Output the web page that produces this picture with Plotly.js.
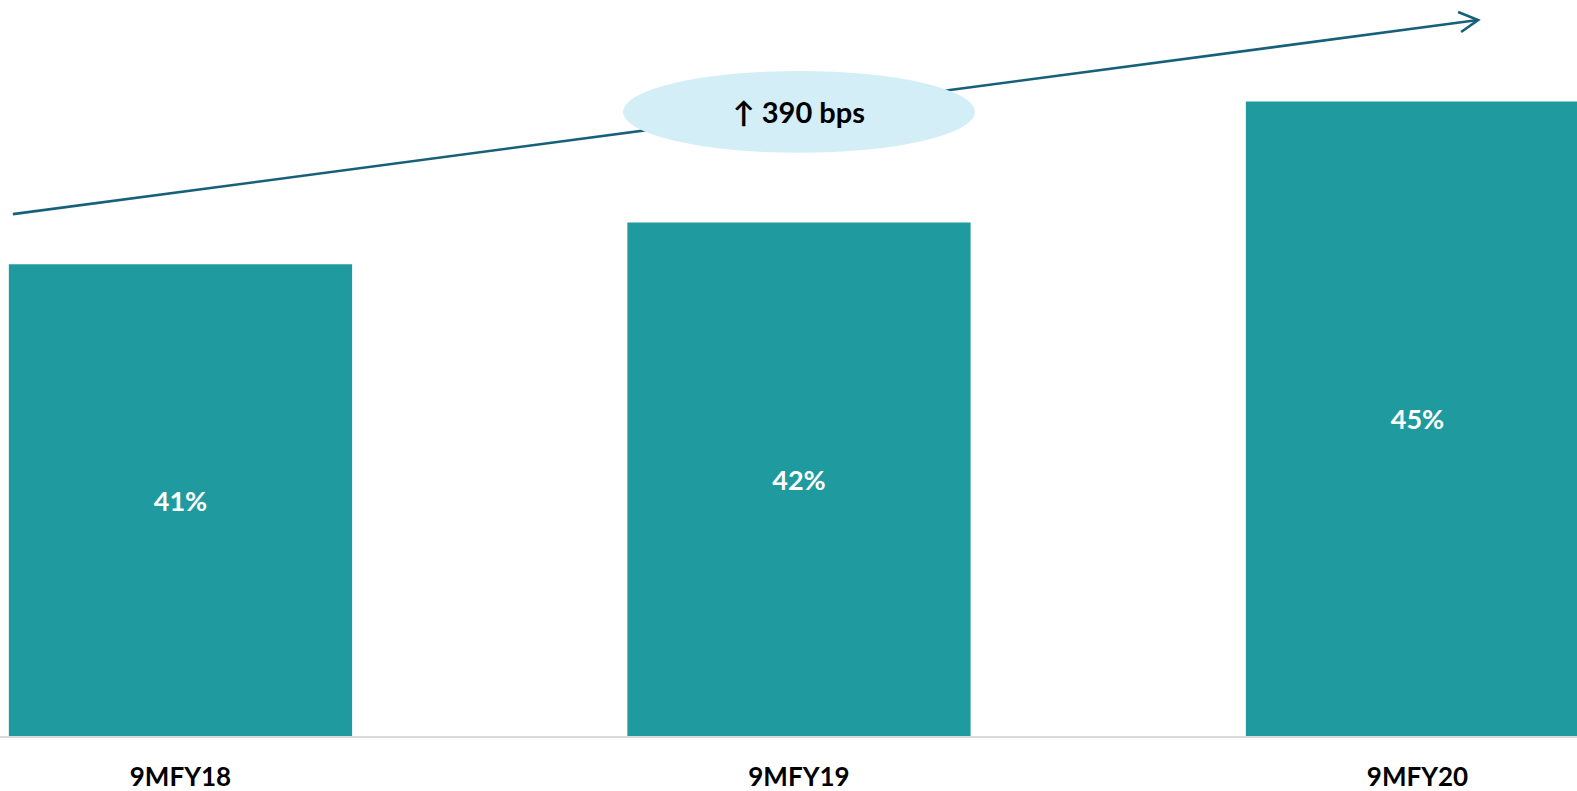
<!DOCTYPE html>
<html>
<head>
<meta charset="utf-8">
<script src="https://cdn.plot.ly/plotly-3.0.1.min.js"></script>
<style>
  html, body { margin: 0; padding: 0; background: #ffffff; }
  #chart { width: 1577px; height: 791px; }
</style>
</head>
<body>
<div id="chart"></div>
<script>
// Data
const categories = ['9MFY18', '9MFY19', '9MFY20'];
const marginValues = [41.3, 42.3, 45.2];
const barLabels = ['41%', '42%', '45%'];
const changeLabel = '↑ 390 bps';
const axisBase = 30;

const FONT = 'Lato, "Open Sans", sans-serif';
const barColor = '#1F9BA0';
const arrowColor = '#17607A';

const xIdx = categories.map((_, i) => i);

const trace = {
  type: 'bar',
  x: xIdx,
  y: marginValues.map(v => v - axisBase),
  base: axisBase,
  text: barLabels,
  textposition: 'inside',
  insidetextanchor: 'middle',
  textangle: 0,
  textfont: { family: FONT, size: 27, color: '#ffffff', weight: 700 },
  marker: { color: barColor, line: { width: 0 } },
  hoverinfo: 'skip',
  cliponaxis: true
};

// trend arrow endpoints in data coordinates
const arrowStart = { x: -0.271, y: 42.5 };
const arrowEnd = { x: 2.098, y: 47.15 };

const layout = {
  width: 1577,
  height: 791,
  margin: { l: 0, r: 0, t: 0, b: 55, pad: 0 },
  paper_bgcolor: '#ffffff',
  plot_bgcolor: '#ffffff',
  showlegend: false,
  bargap: 0.445,
  xaxis: {
    range: [-0.2918, 2.2579],
    tickmode: 'array',
    tickvals: xIdx,
    ticktext: categories,
    showgrid: false,
    zeroline: false,
    showline: true,
    linecolor: '#d9d9d9',
    linewidth: 2,
    ticks: '',
    ticklabelstandoff: 17,
    tickfont: { family: FONT, size: 26, color: '#000000', weight: 700 },
    fixedrange: true
  },
  yaxis: {
    range: [axisBase, 47.63],
    visible: false,
    showgrid: false,
    zeroline: false,
    fixedrange: true
  },
  shapes: [
    {
      type: 'line', xref: 'x', yref: 'y', layer: 'above',
      x0: arrowStart.x, y0: arrowStart.y, x1: arrowEnd.x, y1: arrowEnd.y,
      line: { color: arrowColor, width: 2.6 }
    },
    {
      type: 'path', xref: 'x', yref: 'y', layer: 'above',
      xsizemode: 'pixel', ysizemode: 'pixel',
      xanchor: arrowEnd.x, yanchor: arrowEnd.y,
      path: 'M -20,8 L 0,0 L -17,-12',
      line: { color: arrowColor, width: 2.6 }
    },
    {
      type: 'circle', xref: 'x', yref: 'y', layer: 'above',
      x0: 0.7154, x1: 1.2846, y0: 43.97, y1: 45.93,
      fillcolor: '#D4EEF8',
      line: { width: 0 }
    }
  ],
  annotations: [
    {
      xref: 'x', yref: 'y', x: 1, y: 44.95,
      text: '<b>' + changeLabel + '</b>',
      showarrow: false,
      font: { family: FONT, size: 29, color: '#000000' },
      xanchor: 'center', yanchor: 'middle'
    }
  ]
};

Plotly.newPlot('chart', [trace], layout, { staticPlot: true, displayModeBar: false });
</script>
</body>
</html>
